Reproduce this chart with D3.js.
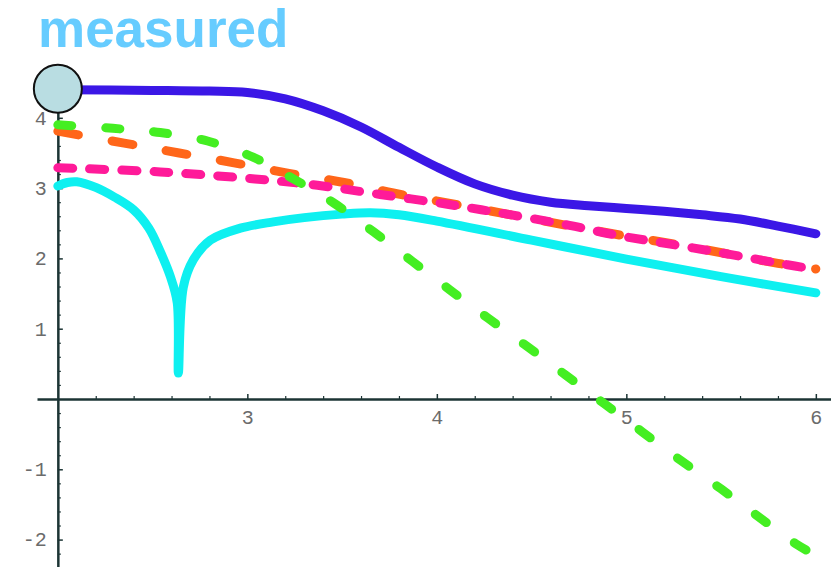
<!DOCTYPE html>
<html>
<head>
<meta charset="utf-8">
<script src="https://cdn.jsdelivr.net/npm/d3@7"></script>
<style>
  body { margin: 0; background: #fff; }
  .axis path, .axis line { stroke: #1c3434; stroke-width: 2.5; }
  .axis text { font-family: "Liberation Mono", monospace; font-size: 20px; fill: #6b6b6b; }
  .curve { fill: none; stroke-linecap: round; stroke-linejoin: round; stroke-width: 9; }
</style>
</head>
<body>
<script>
var width = 831, height = 567;

// Tick labels
var xTicks = [3, 4, 5, 6];
var yTicks = [-2, -1, 1, 2, 3, 4];

// Series, as [x, y]
var blueSeries = [
  [2.0, 4.40], [2.5, 4.39], [2.8, 4.38], [3.0, 4.36], [3.2, 4.27],
  [3.4, 4.10], [3.6, 3.87], [3.8, 3.58], [4.0, 3.30], [4.2, 3.06],
  [4.4, 2.90], [4.6, 2.80], [4.8, 2.75], [5.0, 2.71], [5.2, 2.67],
  [5.4, 2.62], [5.6, 2.56], [5.8, 2.46], [6.0, 2.35]
];
var cyanSeries = [
  [2.0, 3.03], [2.05, 3.08], [2.1, 3.09], [2.2, 3.01], [2.3, 2.87],
  [2.4, 2.69], [2.48, 2.43], [2.54, 2.10], [2.594, 1.74], [2.63, 1.37],
  [2.636, 0.37],
  [2.662, 1.59], [2.715, 1.98], [2.805, 2.26], [2.963, 2.43], [3.137, 2.52],
  [3.3, 2.58], [3.5, 2.63], [3.65, 2.65], [3.8, 2.62], [4.0, 2.53],
  [4.5, 2.26], [5.0, 1.99], [5.5, 1.74], [6.0, 1.51]
];
var orangeSeries = [
  [2.0, 3.81], [2.35, 3.64], [2.64, 3.50], [2.93, 3.36], [3.22, 3.21],
  [3.51, 3.08], [3.77, 2.93], [4.055, 2.79], [4.37, 2.63], [4.95, 2.34],
  [5.285, 2.19], [5.80, 1.93], [6.0, 1.85]
];
var pinkSeries = [
  [2.0, 3.29], [2.54, 3.23], [3.04, 3.13], [3.37, 3.04], [3.70, 2.91],
  [4.055, 2.77], [4.37, 2.63], [4.70, 2.47], [4.95, 2.33], [5.35, 2.15],
  [5.85, 1.91], [6.0, 1.84]
];
var greenSeries = [
  [2.0, 3.90], [2.29, 3.85], [2.54, 3.79], [2.79, 3.67], [3.03, 3.44],
  [3.25, 3.12], [3.455, 2.79], [3.665, 2.38], [3.87, 1.96], [4.07, 1.55],
  [4.27, 1.15], [4.48, 0.74], [4.68, 0.34], [4.88, -0.06], [5.085, -0.47],
  [5.285, -0.87], [5.50, -1.28], [5.70, -1.68], [5.90, -2.07], [5.97, -2.18]
];

// Scales
var xScale = d3.scaleLinear().domain([1.89, 6.08]).range([37, 831]);
var yScale = d3.scaleLinear().domain([-2.4, 4.4]).range([567.7, 89.7]);

var svg = d3.select("body").append("svg")
    .attr("width", width)
    .attr("height", height);

// Title
svg.append("text")
    .attr("x", 38)
    .attr("y", 47)
    .style("font-family", "'Liberation Sans', Arial, sans-serif")
    .style("font-weight", "bold")
    .style("font-size", "53px")
    .style("fill", "#66ccff")
    .text("measured");

var fmt = function(d) { return d < 0 ? "-" + Math.abs(d) : String(d); };
var xMinor = d3.range(2.2, 6.01, 0.2).filter(function(v) { return Math.abs(v - Math.round(v)) > 0.01; });
var yMinor = d3.range(-2.4, 4.41, 0.2).filter(function(v) { return Math.abs(v - Math.round(v)) > 0.01; });

// Minor ticks
svg.append("g")
    .attr("class", "axis")
    .attr("transform", "translate(0," + yScale(0) + ")")
    .call(d3.axisBottom(xScale).tickValues(xMinor).tickSizeInner(-3).tickSizeOuter(0).tickFormat(""))
  .call(function(g) { g.select(".domain").remove(); g.selectAll("line").style("stroke-width", 1.2); });

svg.append("g")
    .attr("class", "axis")
    .attr("transform", "translate(" + xScale(2) + ",0)")
    .call(d3.axisLeft(yScale).tickValues(yMinor).tickSizeInner(-3).tickSizeOuter(0).tickFormat(""))
  .call(function(g) { g.select(".domain").remove(); g.selectAll("line").style("stroke-width", 1.2); });

// Main axes
svg.append("g")
    .attr("class", "axis")
    .attr("transform", "translate(0," + yScale(0) + ")")
    .call(d3.axisBottom(xScale).tickValues(xTicks).tickSizeInner(-5).tickSizeOuter(0).tickPadding(11).tickFormat(fmt))
  .call(function(g) { g.selectAll("line").style("stroke-width", 1.5); });

svg.append("g")
    .attr("class", "axis")
    .attr("transform", "translate(" + xScale(2) + ",0)")
    .call(d3.axisLeft(yScale).tickValues(yTicks).tickSizeInner(-5).tickSizeOuter(0).tickPadding(11).tickFormat(fmt))
  .call(function(g) { g.selectAll("line").style("stroke-width", 1.5); });

// Curves
var line = d3.line()
    .x(function(d) { return xScale(d[0]); })
    .y(function(d) { return yScale(d[1]); })
    .curve(d3.curveCatmullRom.alpha(0.5));

var curves = [
  {data: blueSeries, color: "#3b17e6", dash: null},
  {data: cyanSeries, color: "#0ef0f0", dash: null},
  {data: orangeSeries, color: "#ff6619", dash: "21,34"},
  {data: pinkSeries, color: "#ff1a99", dash: "15,17"},
  {data: greenSeries, color: "#44ee22", dash: "14,34"}
];

curves.forEach(function(c) {
  svg.append("path")
      .datum(c.data)
      .attr("class", "curve")
      .attr("d", line)
      .style("stroke", c.color)
      .style("stroke-dasharray", c.dash);
});

// Marker at the start of the measured curve
svg.append("circle")
    .attr("cx", xScale(blueSeries[0][0]))
    .attr("cy", yScale(blueSeries[0][1]) - 1)
    .attr("r", 24)
    .style("fill", "#b9dde2")
    .style("stroke", "#111")
    .style("stroke-width", 2);
</script>
</body>
</html>
